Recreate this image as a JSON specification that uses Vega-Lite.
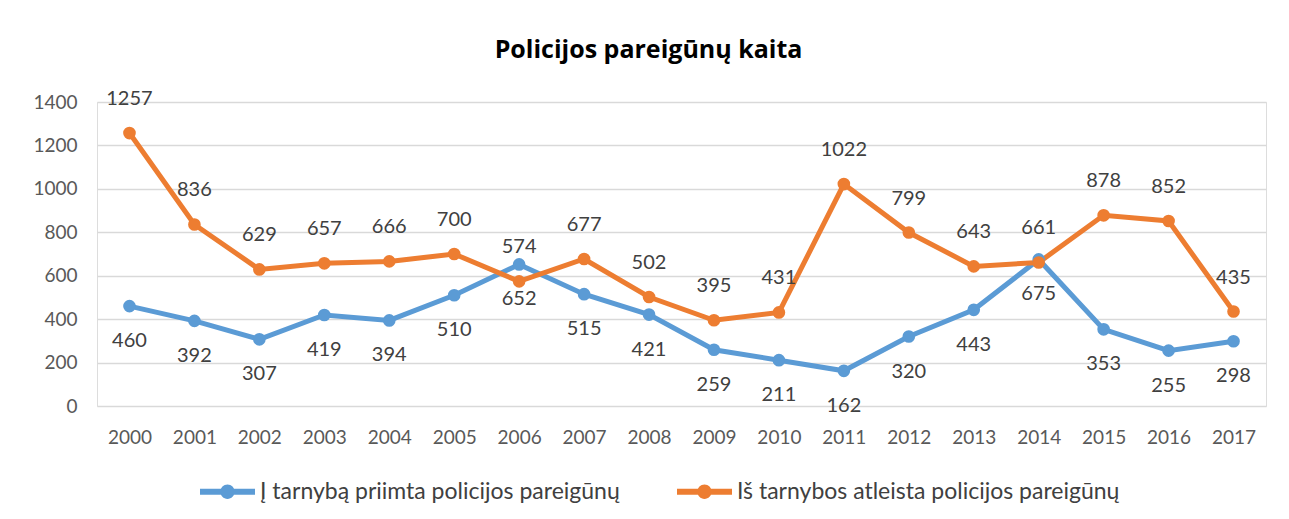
{
  "$schema": "https://vega.github.io/schema/vega-lite/v6.json",
  "autosize": "none",
  "width": 1169,
  "height": 304,
  "padding": {"left": 97, "top": 102, "right": 23, "bottom": 113},
  "background": "white",
  "title": {
    "text": "Policijos pareigūnų kaita",
    "font": "Open Sans",
    "fontSize": 25,
    "fontWeight": "bold",
    "color": "#000000",
    "anchor": "middle",
    "dx": -33,
    "offset": 26
  },
  "data": {
    "values": [
      {"year": "2000", "series": "Į tarnybą priimta policijos pareigūnų", "value": 460},
      {"year": "2001", "series": "Į tarnybą priimta policijos pareigūnų", "value": 392},
      {"year": "2002", "series": "Į tarnybą priimta policijos pareigūnų", "value": 307},
      {"year": "2003", "series": "Į tarnybą priimta policijos pareigūnų", "value": 419},
      {"year": "2004", "series": "Į tarnybą priimta policijos pareigūnų", "value": 394},
      {"year": "2005", "series": "Į tarnybą priimta policijos pareigūnų", "value": 510},
      {"year": "2006", "series": "Į tarnybą priimta policijos pareigūnų", "value": 652},
      {"year": "2007", "series": "Į tarnybą priimta policijos pareigūnų", "value": 515},
      {"year": "2008", "series": "Į tarnybą priimta policijos pareigūnų", "value": 421},
      {"year": "2009", "series": "Į tarnybą priimta policijos pareigūnų", "value": 259},
      {"year": "2010", "series": "Į tarnybą priimta policijos pareigūnų", "value": 211},
      {"year": "2011", "series": "Į tarnybą priimta policijos pareigūnų", "value": 162},
      {"year": "2012", "series": "Į tarnybą priimta policijos pareigūnų", "value": 320},
      {"year": "2013", "series": "Į tarnybą priimta policijos pareigūnų", "value": 443},
      {"year": "2014", "series": "Į tarnybą priimta policijos pareigūnų", "value": 675},
      {"year": "2015", "series": "Į tarnybą priimta policijos pareigūnų", "value": 353},
      {"year": "2016", "series": "Į tarnybą priimta policijos pareigūnų", "value": 255},
      {"year": "2017", "series": "Į tarnybą priimta policijos pareigūnų", "value": 298},
      {"year": "2000", "series": "Iš tarnybos atleista policijos pareigūnų", "value": 1257},
      {"year": "2001", "series": "Iš tarnybos atleista policijos pareigūnų", "value": 836},
      {"year": "2002", "series": "Iš tarnybos atleista policijos pareigūnų", "value": 629},
      {"year": "2003", "series": "Iš tarnybos atleista policijos pareigūnų", "value": 657},
      {"year": "2004", "series": "Iš tarnybos atleista policijos pareigūnų", "value": 666},
      {"year": "2005", "series": "Iš tarnybos atleista policijos pareigūnų", "value": 700},
      {"year": "2006", "series": "Iš tarnybos atleista policijos pareigūnų", "value": 574},
      {"year": "2007", "series": "Iš tarnybos atleista policijos pareigūnų", "value": 677},
      {"year": "2008", "series": "Iš tarnybos atleista policijos pareigūnų", "value": 502},
      {"year": "2009", "series": "Iš tarnybos atleista policijos pareigūnų", "value": 395},
      {"year": "2010", "series": "Iš tarnybos atleista policijos pareigūnų", "value": 431},
      {"year": "2011", "series": "Iš tarnybos atleista policijos pareigūnų", "value": 1022},
      {"year": "2012", "series": "Iš tarnybos atleista policijos pareigūnų", "value": 799},
      {"year": "2013", "series": "Iš tarnybos atleista policijos pareigūnų", "value": 643},
      {"year": "2014", "series": "Iš tarnybos atleista policijos pareigūnų", "value": 661},
      {"year": "2015", "series": "Iš tarnybos atleista policijos pareigūnų", "value": 878},
      {"year": "2016", "series": "Iš tarnybos atleista policijos pareigūnų", "value": 852},
      {"year": "2017", "series": "Iš tarnybos atleista policijos pareigūnų", "value": 435}
    ]
  },
  "encoding": {
    "x": {
      "field": "year",
      "type": "ordinal",
      "scale": {"type": "point", "padding": 0.5},
      "axis": {
        "title": null,
        "labelAngle": 0,
        "ticks": false,
        "domain": false,
        "grid": false,
        "labelFont": "Lato",
        "labelFontSize": 19,
        "labelColor": "#595959",
        "labelPadding": 22
      }
    },
    "y": {
      "field": "value",
      "type": "quantitative",
      "scale": {"domain": [0, 1400]},
      "axis": {
        "title": null,
        "values": [0, 200, 400, 600, 800, 1000, 1200, 1400],
        "format": "d",
        "ticks": false,
        "domain": false,
        "grid": true,
        "gridColor": "#D9D9D9",
        "gridWidth": 1.5,
        "labelFont": "Lato",
        "labelFontSize": 19,
        "labelColor": "#595959",
        "labelPadding": 20
      }
    }
  },
  "layer": [
    {
      "mark": {"type": "line", "strokeWidth": 5, "point": {"filled": true, "size": 160}},
      "encoding": {
        "color": {
          "field": "series",
          "type": "nominal",
          "scale": {
            "domain": ["Į tarnybą priimta policijos pareigūnų", "Iš tarnybos atleista policijos pareigūnų"],
            "range": ["#5B9BD5", "#ED7D31"]
          },
          "legend": {
            "title": null,
            "orient": "none",
            "direction": "horizontal",
            "legendX": 103,
            "legendY": 362,
            "symbolType": "M-1,-0.11L1,-0.11L1,0.11L-1,0.11Z M0.26,0A0.26,0.26 0 1,1 -0.26,0A0.26,0.26 0 1,1 0.26,0Z",
            "symbolSize": 3025,
            "symbolStrokeWidth": 0,
            "labelFont": "Lato",
            "labelFontSize": 23,
            "labelColor": "#404040",
            "labelOffset": 5,
            "columnPadding": 57,
            "labelLimit": 600
          }
        }
      }
    },
    {
      "transform": [{"filter": "datum.series === 'Iš tarnybos atleista policijos pareigūnų'"}],
      "mark": {"type": "text", "dy": -34, "font": "Lato", "fontSize": 20, "color": "#404040"},
      "encoding": {"text": {"field": "value", "type": "quantitative"}}
    },
    {
      "transform": [{"filter": "datum.series === 'Į tarnybą priimta policijos pareigūnų'"}],
      "mark": {"type": "text", "dy": 35, "font": "Lato", "fontSize": 20, "color": "#404040"},
      "encoding": {"text": {"field": "value", "type": "quantitative"}}
    }
  ]
}
